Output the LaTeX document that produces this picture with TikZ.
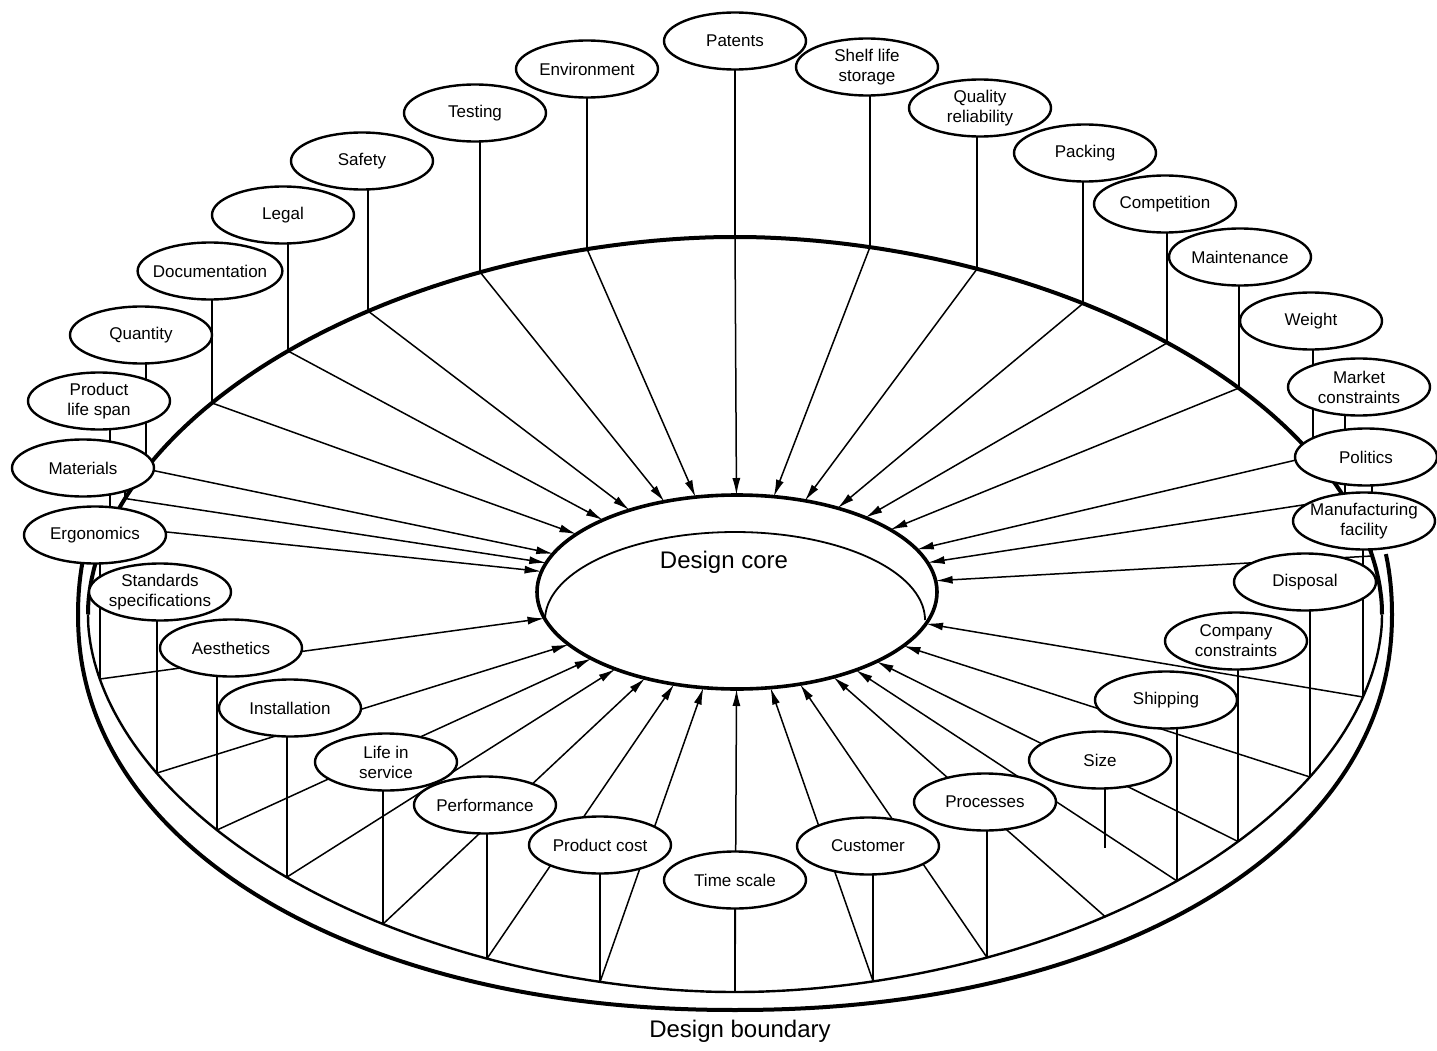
\documentclass[tikz,border=0pt]{standalone}
\usepackage{fontspec}
\setmainfont{Liberation Sans}
\usetikzlibrary{arrows.meta,shapes.geometric}
\pgfdeclarelayer{background}
\pgfsetlayers{background,main}

\begin{document}
\begin{tikzpicture}[
  x=1pt, y=-1pt,
  font=\fontsize{17}{20}\selectfont,
  factor/.style={ellipse, draw, line width=2.4pt, fill=white, align=center, inner xsep=-6pt, inner ysep=0pt, minimum width=142pt, minimum height=57pt},
  core/.style={ellipse, draw, line width=3.6pt, fill=white, minimum width=400pt, minimum height=194pt, outer sep=0pt},
  stick/.style={line width=1.8pt},
  spoke/.style={-{Latex[length=17pt,width=8pt]}, line width=1.5pt},
  backrim/.style={line width=4pt},
  frontrim/.style={line width=2.4pt},
  outerrim/.style={line width=4pt}
]
\useasboundingbox (0,0) rectangle (1437,1051);

% design core
\node[core] (core) at (737,592) {};
\draw[line width=1.8pt] plot[domain=180:360, samples=91, variable=\t] ({735+190*cos(\t)},{620+88*sin(\t)});
\node[font=\fontsize{24}{28}\selectfont] (coretext) at (724,562) {Design core};
\node[font=\fontsize{24}{28}\selectfont] (boundary) at (740,1031) {Design boundary};

% factors, back of the boundary
\node[factor] (pls) at (99,401) {Product\\life span};
\node[factor] (mat) at (83,468) {Materials};
\node[factor] (qua) at (141,335) {Quantity};
\node[factor] (doc) at (210,271) {Documentation};
\node[factor] (leg) at (283,215) {Legal};
\node[factor] (saf) at (362,161) {Safety};
\node[factor] (tes) at (475,113) {Testing};
\node[factor] (env) at (587,69) {Environment};
\node[factor] (pat) at (735,41) {Patents};
\node[factor] (she) at (867,67) {Shelf life\\storage};
\node[factor] (qul) at (980,108) {Quality\\reliability};
\node[factor] (pac) at (1085,153) {Packing};
\node[factor] (com) at (1165,204) {Competition};
\node[factor] (mai) at (1240,257) {Maintenance};
\node[factor] (wei) at (1311,321) {Weight};
\node[factor] (mar) at (1359,387) {Market\\constraints};
\node[factor] (pol) at (1366,457) {Politics};
% factors, front of the boundary
\node[factor] (man) at (1364,521) {Manufacturing\\facility};
\node[factor] (dis) at (1305,582) {Disposal};
\node[factor] (cpy) at (1236,641) {Company\\constraints};
\node[factor] (shi) at (1166,700) {Shipping};
\node[factor] (siz) at (1100,760) {Size};
\node[factor] (prc) at (985,802) {Processes};
\node[factor] (cus) at (868,846) {Customer};
\node[factor] (tim) at (735,880) {Time scale};
\node[factor] (pro) at (600,845) {Product cost};
\node[factor] (per) at (485,805) {Performance};
\node[factor] (lif) at (386,762) {Life in\\service};
\node[factor] (ins) at (290,708) {Installation};
\node[factor] (aes) at (231,648) {Aesthetics};
\node[factor] (sta) at (160,592) {Standards\\specifications};
\node[factor] (erg) at (95,535) {Ergonomics};

% where each factor meets the boundary
\coordinate (apls) at (110,526);
\coordinate (amat) at (125,498.5);
\coordinate (aqua) at (146,469);
\coordinate (adoc) at (212,403);
\coordinate (aleg) at (288,351);
\coordinate (asaf) at (368,311);
\coordinate (ates) at (480,272);
\coordinate (aenv) at (587,249);
\coordinate (apat) at (735,237);
\coordinate (ashe) at (870,247);
\coordinate (aqul) at (977,269);
\coordinate (apac) at (1083,303.5);
\coordinate (acom) at (1167,343);
\coordinate (amai) at (1239,388);
\coordinate (awei) at (1313,456);
\coordinate (amar) at (1345,498.5);
\coordinate (apol) at (1372,556);
\coordinate (aman) at (1363,697);
\coordinate (adis) at (1310,777);
\coordinate (acpy) at (1238,841.5);
\coordinate (ashi) at (1177,881);
\coordinate (asiz) at (1105,916.5);
\coordinate (aprc) at (987,957.5);
\coordinate (acus) at (873,981);
\coordinate (atim) at (735,992);
\coordinate (apro) at (600,982);
\coordinate (aper) at (487,958.6);
\coordinate (alif) at (383,924);
\coordinate (ains) at (287,877);
\coordinate (aaes) at (217,830);
\coordinate (asta) at (157,773);
\coordinate (aerg) at (100,679);
\coordinate (sizend) at (1105,848);

\begin{pgfonlayer}{background}
  % design boundary
  \draw[backrim] plot[domain=180:360, samples=181, variable=\t]
    ({735+647*cos(\t)*pow(abs(cos(\t))+0.0001,0.0526)}, {614.5+377.5*sin(\t)*pow(abs(sin(\t))+0.0001,0.0526)});
  \draw[frontrim] plot[domain=0:180, samples=181, variable=\t]
    ({735+647*cos(\t)*pow(abs(cos(\t))+0.0001,0.0526)}, {614.5+377.5*sin(\t)*pow(abs(sin(\t))+0.0001,0.0526)});
  \draw[outerrim] plot[domain=-8:188, samples=197, variable=\t]
    ({735+657*cos(\t)*pow(abs(cos(\t))+0.0001,-0.0476)}, {614.5+395.5*sin(\t)*pow(abs(sin(\t))+0.0001,-0.0476)});
  % sticks
  \foreach \f in {pls,mat,qua,doc,leg,saf,tes,env,pat,she,qul,pac,com,mai,wei,mar,pol,
                  man,dis,cpy,shi,prc,cus,tim,pro,per,lif,ins,aes,sta,erg}
    \draw[stick] (a\f) -- (a\f |- \f.center);
  \draw[stick] (sizend) -- (sizend |- siz.center);
  % spokes into the core
  \foreach \f in {pls,mat,qua,doc,leg,saf,tes,env,pat,she,qul,pac,com,mai,wei,mar,pol,
                  man,dis,cpy,shi,siz,prc,cus,tim,pro,per,lif,ins,aes,sta,erg}
    \draw[spoke] (a\f) -- (core);
\end{pgfonlayer}
\end{tikzpicture}
\end{document}
